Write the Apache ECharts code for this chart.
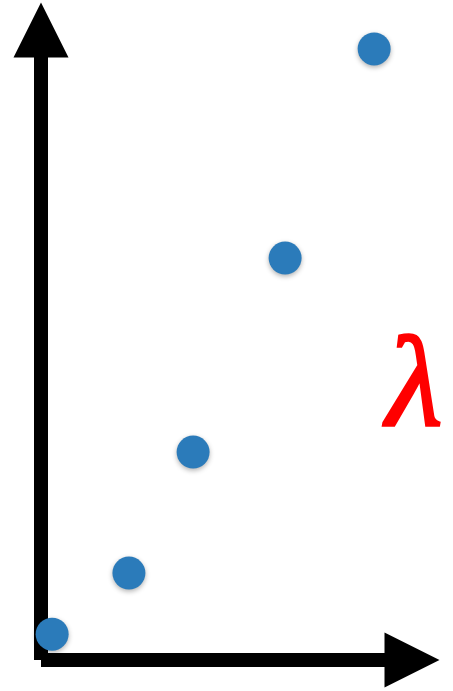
<!DOCTYPE html>
<html>
<head>
<meta charset="utf-8">
<script src="https://cdn.jsdelivr.net/npm/echarts@6/dist/echarts.min.js"></script>
<style>html,body{margin:0;padding:0;background:#fff;}#c{width:453px;height:691px;}</style>
</head>
<body>
<div id="c"></div>
<script>
const xValues = [3.0, 23.7, 41.0, 65.8, 89.8];
const yValues = [4.1, 13.8, 33.0, 63.8, 97.0];
const labelText = 'λ';

const chart = echarts.init(document.getElementById('c'), null, {renderer: 'canvas'});
const axisCommon = {
  type: 'value', min: 0, max: 100,
  axisLine: {show: true, lineStyle: {color: '#000', width: 14, cap: 'butt'},
             symbol: ['none', 'triangle'], symbolSize: [55, 55]},
  axisTick: {show: false}, axisLabel: {show: false}, splitLine: {show: false}
};
chart.setOption({
  animation: false,
  backgroundColor: '#fff',
  grid: {left: 41, right: 41, top: 30, bottom: 31, containLabel: false},
  xAxis: Object.assign({}, axisCommon),
  yAxis: Object.assign({}, axisCommon),
  graphic: [{
    type: 'text', left: 385, top: 326, z: 10,
    style: {text: labelText, fill: '#ff0000', stroke: '#ff0000', lineWidth: 2.5,
            font: 'italic 130px "Liberation Serif"'}
  }],
  series: [{
    type: 'scatter',
    data: xValues.map((x, i) => [x, yValues[i]]),
    symbolSize: 33,
    itemStyle: {color: '#2b7bba', shadowBlur: 5, shadowColor: 'rgba(0,0,0,0.3)', shadowOffsetY: 2, opacity: 1}
  }]
});
</script>
</body>
</html>
